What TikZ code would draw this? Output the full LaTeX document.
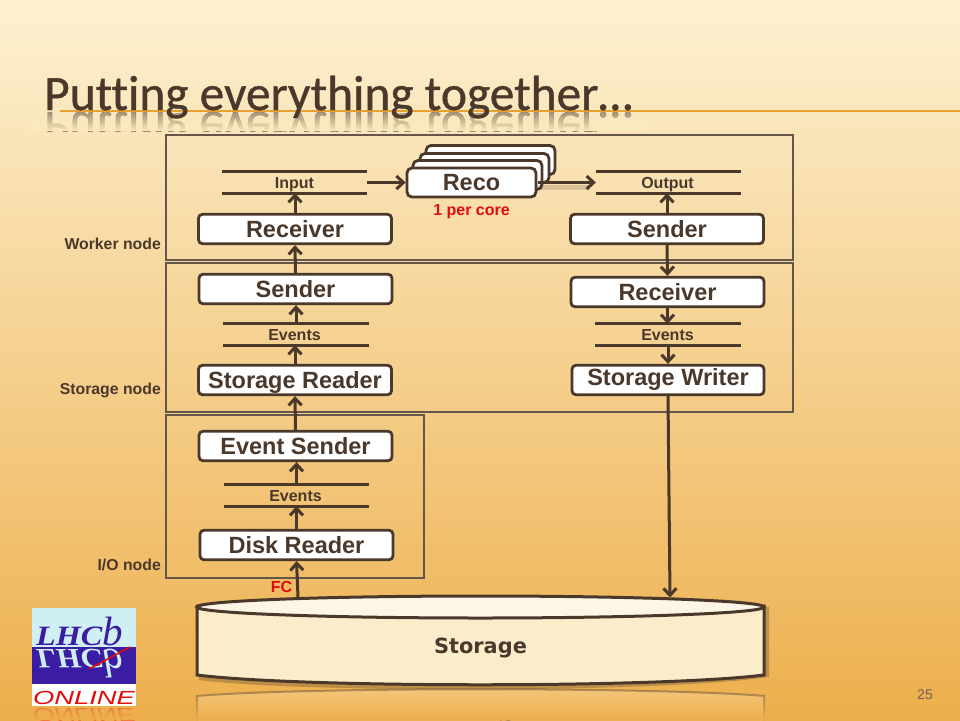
\documentclass[tikz,border=0pt]{standalone}
\usepackage{fontspec}
\usepackage{graphicx}
\setmainfont{Liberation Sans}
\newfontfamily\titlefont[Ligatures=NoCommon,FakeBold=0.8]{Carlito}
\newfontfamily\serifface{Liberation Serif}
\newfontfamily\storeface{DejaVu Sans}
\usetikzlibrary{arrows.meta,fadings,calc,shapes.geometric}
\definecolor{ink}{HTML}{4A382B}
\definecolor{bgtop}{HTML}{FDF1D2}
\definecolor{bgmid}{HTML}{F8DCA0}
\definecolor{bgbot}{HTML}{EDAF4C}
\definecolor{rulecol}{HTML}{E8A030}
\definecolor{cylside}{HTML}{FBEDCB}
\definecolor{cyltop}{HTML}{FDF6E6}
\definecolor{lhcbblue}{HTML}{3A1DA3}
\definecolor{lhcbsky}{HTML}{CFEFF4}
\definecolor{redtxt}{HTML}{E30B0B}
\tikzset{
  x=1pt,y=-1pt,
  boxnode/.style={draw=ink,line width=2.8pt,fill=white,rounded corners=4pt,minimum width=193pt,minimum height=29.5pt,inner sep=0pt,text=ink,text height=16.5pt,text depth=0pt,font=\fontsize{23.5}{23.5}\selectfont\bfseries},
  reconode/.style={draw=ink,line width=2.8pt,fill=white,rounded corners=5pt,minimum width=129pt,minimum height=29pt,inner sep=0pt,text=ink,text height=16.5pt,text depth=0pt,font=\fontsize{23.5}{23.5}\selectfont\bfseries},
  storenode/.style={minimum width=145pt,minimum height=21pt,inner sep=0pt,text=ink,text height=11.5pt,text depth=0pt,font=\fontsize{16}{16}\selectfont\bfseries},
  bar/.style={draw=ink,line width=3pt},
  arrowline/.style={draw=ink,line width=3pt,-{Straight Barb[length=7pt,width=13pt,line width=3pt]}},
  frame/.style={draw=ink!85,line width=1.5pt},
  sidelabel/.style={anchor=east,inner sep=0pt,text=ink,font=\fontsize{15.8}{16}\selectfont\bfseries},
  redlabel/.style={inner sep=0pt,text=redtxt,font=\fontsize{16}{16}\selectfont\bfseries},
  titletext/.style={inner sep=0pt,text=ink,font=\titlefont\fontsize{49.4}{50}\selectfont},
  logotext/.style={inner sep=0pt,anchor=base west,font=\serifface\itshape},
  onlinetext/.style={inner sep=0pt,anchor=base,text=redtxt,font=\fontsize{19}{19}\selectfont\itshape}
}
\newcommand{\logomark}{{\fontsize{28}{28}\selectfont\bfseries\scalebox{1.15}[1]{LHC}}{\fontsize{41}{41}\selectfont b}}
\begin{document}
\begin{tikzpicture}
\useasboundingbox (0,0) rectangle (960,720);
\shade[top color=bgtop,middle color=bgmid,bottom color=bgbot] (0,0) rectangle (960,720);

% title reflection and rule
\begin{scope}
\clip (30,111) rectangle (650,131);
\node[titletext,anchor=base west,opacity=.5] (titlerefl) at (44,112)
  {\scalebox{1}[-1]{Putting everything together…}};
\fill[color=bgtop!65!bgmid,path fading=north] (30,111) rectangle (650,131);
\end{scope}
\draw[color=rulecol,line width=1.1pt] (60,111) -- (960,111);
\node[titletext,anchor=base west] (title) at (44,110)
  {Putting everything together…};

% frames
\draw[frame] (166,135) rectangle (793,260);
\draw[frame] (166,263) rectangle (793,412);
\draw[frame] (166,415) rectangle (424,578);

% reco stack
\node[reconode] (reco3) at (490.5,160) {};
\node[reconode] (reco2) at (484.5,168) {};
\node[reconode] (reco1) at (477.5,175) {};
\fill[ink,opacity=.18] (537,185) rectangle (590,190);
\node[reconode] (reco) at (471.5,182.5) {Reco};

% process boxes
\node[boxnode] (recvL) at (295,229) {Receiver};
\node[boxnode] (sendR) at (667,229) {Sender};
\node[boxnode] (sendL) at (295.5,289) {Sender};
\node[boxnode] (recvR) at (667.5,292) {Receiver};
\node[boxnode] (readS) at (295,380) {Storage Reader};
\node[boxnode,minimum width=192pt] (writeS) at (668,380) {\raisebox{3pt}{Storage Writer}};
\node[boxnode] (sendE) at (295.5,446) {Event Sender};
\node[boxnode] (readD) at (296.5,545) {Disk Reader};

% buffers
\node[storenode] (input) at (294.5,182.5) {Input};
\node[storenode] (output) at (668.5,182.5) {\hspace*{-2pt}Output};
\node[storenode] (ev1) at (296,334.5) {\hspace*{-3pt}Events};
\node[storenode] (ev2) at (668,334.5) {\hspace*{-1pt}Events};
\node[storenode] (ev3) at (296.5,495.5) {\hspace*{-2pt}Events};
\foreach \n in {input,output,ev1,ev2,ev3}{
  \draw[bar] (\n.north west) -- (\n.north east);
  \draw[bar] (\n.south west) -- (\n.south east);
}

% storage reflection
\fill[color=bgbot!70!bgtop] (197,720) -- (197,696) .. controls (300,687) and (660,687) .. (764,696) -- (764,720) -- cycle;
\draw[ink,opacity=.4,line width=2pt] (197,720) -- (197,696) .. controls (300,687) and (660,687) .. (764,696) -- (764,720);
\node[inner sep=0pt,anchor=base,opacity=.3,text=ink,font=\storeface\fontsize{20.9}{21}\selectfont\bfseries] (storerefl) at (480.5,722) {\scalebox{1}[-1]{Storage}};
\fill[color=bgbot,path fading=north] (190,693) rectangle (772,720);

% storage cylinder
\fill[ink,opacity=.3] (766,607) -- (769,607) -- (769,677) .. controls (660,693) and (300,693) .. (199,680) -- (199,676) -- cycle;
\path[draw=ink,line width=3pt,fill=cylside] (197,606) -- (197,675) .. controls (300,688) and (660,688) .. (764,675) -- (764,606) -- cycle;
\node[draw=ink,line width=3pt,fill=cyltop,ellipse,minimum width=567pt,minimum height=22pt,inner sep=0pt] (cyltopface) at (480.5,607) {};
\coordinate (cyltopL) at (298,597);
\coordinate (cyltopR) at (670,597.5);
\node[inner sep=0pt,text=ink,font=\storeface\fontsize{20.9}{21}\selectfont\bfseries] (storage) at (480.5,647.5) {Storage};

% connectors
\draw[arrowline] (input.east) -- (reco.west);
\draw[arrowline] ($(reco.east)+(1,0)$) -- (output.west);
\draw[arrowline] (recvL.north) -- (recvL.north |- input.south);
\draw[arrowline] (sendR.north) -- (sendR.north |- output.south);
\draw[arrowline] (sendL.north) -- (recvL.south);
\draw[arrowline] (sendR.south) -- (recvR.north);
\draw[arrowline] (recvR.south) -- (recvR.south |- ev2.north);
\draw[arrowline] (ev2.south) -- (ev2.south |- writeS.north);
\draw[arrowline] (ev1.north) -- (ev1.north |- sendL.south);
\draw[arrowline] (readS.north) -- (readS.north |- ev1.south);
\draw[arrowline] (sendE.north) -- (readS.south);
\draw[arrowline] (ev3.north) -- (ev3.north |- sendE.south);
\draw[arrowline] (readD.north) -- (readD.north |- ev3.south);
\draw[arrowline] (cyltopL) -- (readD.south);
\draw[arrowline] (writeS.south) -- (cyltopR);

% labels
\node[sidelabel] (lw) at (161,243.5) {Worker node};
\node[sidelabel] (ls) at (161,390.5) {Storage node};
\node[sidelabel] (li) at (161,564.5) {I/O node};
\node[redlabel] (fc) at (281.5,587) {FC};
\node[redlabel] (percore) at (471.5,211.5) {1 per core};
\node[inner sep=0pt,text=ink!80,font=\fontsize{14}{14}\selectfont] (page) at (925,695) {25};

% logo
\fill[lhcbsky] (32,608) rectangle (136,647);
\fill[lhcbblue] (32,647) rectangle (136,683.5);
\fill[white] (32,683.5) rectangle (136,706);
\node[logotext,text=lhcbblue] (lhcb) at (36,645) {\logomark};
\node[logotext,text=lhcbsky] (lhcbrefl) at (36,649) {\scalebox{1}[-1]{\logomark}};
\draw[redtxt,line width=1.5pt] (89,669) -- (130,647);
\node[onlinetext] (online) at (84,704.5) {\scalebox{1.44}[1]{ONLINE}};
\node[onlinetext,opacity=.3] (onlinerefl) at (84,708) {\scalebox{1.44}[-1]{ONLINE}};
\fill[color=bgbot,path fading=north] (30,707) rectangle (138,720);
\end{tikzpicture}
\end{document}
